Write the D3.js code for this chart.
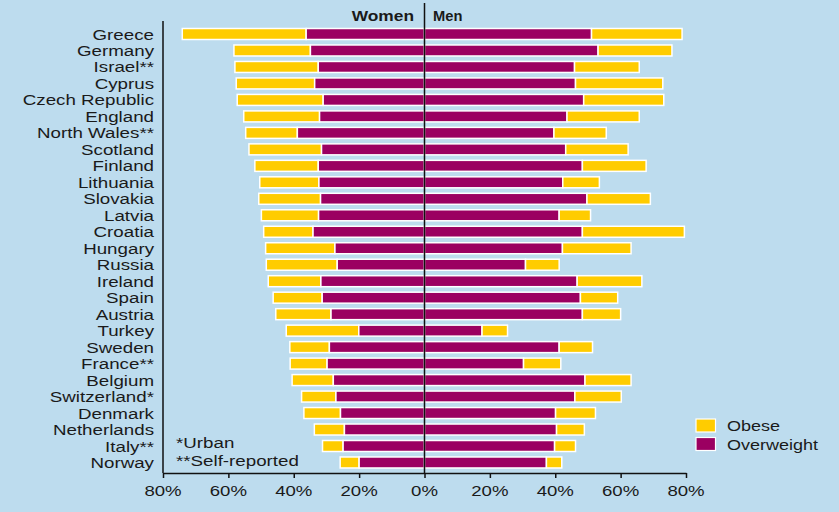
<!DOCTYPE html>
<html><head><meta charset="utf-8">
<script src="https://cdn.jsdelivr.net/npm/d3@7"></script>
<style>
html,body{margin:0;padding:0;background:#bddcee;}
svg{display:block;}
text{font-family:"Liberation Sans",Arial,sans-serif;fill:#1a1a1a;}
</style></head><body>
<svg id="chart" width="839" height="512"></svg>
<script>
const countries = ["Greece","Germany","Israel**","Cyprus","Czech Republic","England","North Wales**","Scotland","Finland","Lithuania","Slovakia","Latvia","Croatia","Hungary","Russia","Ireland","Spain","Austria","Turkey","Sweden","France**","Belgium","Switzerland*","Denmark","Netherlands","Italy**","Norway"];
const womenOverweight = [36.2,34.9,32.5,33.6,31.0,32.1,38.9,31.5,32.5,32.3,31.8,32.4,34.1,27.4,26.7,31.7,31.3,28.6,20.1,29.1,29.8,27.9,27.1,25.7,24.5,24.9,20.0];
const womenObese      = [37.9,23.4,25.5,24.0,26.3,23.2,15.8,22.2,19.4,18.1,18.9,17.5,15.1,21.2,21.7,16.1,15.0,16.9,22.2,12.1,11.3,12.6,10.5,11.2,9.2,6.3,5.8];
const menOverweight   = [51.1,53.1,45.9,46.2,48.7,43.6,39.6,43.2,48.3,42.3,49.7,41.2,48.3,42.2,30.9,46.7,47.7,48.3,17.6,41.2,30.3,49.1,46.0,40.1,40.4,39.8,37.3];
const menObese        = [27.7,22.6,19.8,26.7,24.5,22.1,16.0,19.1,19.5,11.2,19.4,9.6,31.2,21.0,10.3,19.8,11.4,11.7,7.8,10.2,11.4,14.1,14.2,12.2,8.5,6.4,4.7];
const tickValues = [-80,-60,-40,-20,0,20,40,60,80];
const seriesNames = ["Obese","Overweight"];
const colors = {Obese:"#ffcc00", Overweight:"#9b0061"};
const footnotes = ["*Urban","**Self-reported"];

const svg = d3.select("#chart");
const STRETCH = 1.25;

const x = d3.scaleLinear().domain([-80,80]).range([163,686]);
const y = d3.scaleBand().domain(countries).range([25.76, 470.72]).padding(0);
const barH = 11;

function stext(parent, tx, ty, str, anchor, size, weight, sx){
  const g = parent.append("g").attr("transform",`translate(${tx},${ty}) scale(${sx||STRETCH},1)`);
  g.append("text").attr("text-anchor",anchor).attr("font-size",size).attr("font-weight",weight||"normal").text(str);
  return g;
}

const rows = countries.map((c,i)=>({c, wo:womenOverweight[i], wb:womenObese[i], mo:menOverweight[i], mb:menObese[i]}));

const gBars = svg.append("g");
rows.forEach(d=>{
  const cy = y(d.c) + y.bandwidth()/2;
  const segs = [
    {x0:x(-(d.wo+d.wb)), x1:x(-d.wo), col:colors.Obese},
    {x0:x(-d.wo), x1:x(0), col:colors.Overweight},
    {x0:x(0), x1:x(d.mo), col:colors.Overweight},
    {x0:x(d.mo), x1:x(d.mo+d.mb), col:colors.Obese}
  ];
  segs.forEach(s=>{
    gBars.append("rect").attr("x",s.x0).attr("y",cy-barH/2).attr("width",s.x1-s.x0).attr("height",barH)
      .attr("fill",s.col).attr("stroke","#ffffff").attr("stroke-width",1.5);
  });
});

rows.forEach(d=>{
  const cy = y(d.c) + y.bandwidth()/2;
  stext(svg, 154, cy+5.5, d.c, "end", 15);
});

svg.append("line").attr("x1",x(0)).attr("x2",x(0)).attr("y1",3).attr("y2",473).attr("stroke","#111").attr("stroke-width",1.5);
svg.append("line").attr("x1",x(-80)).attr("x2",x(-80)).attr("y1",21).attr("y2",473).attr("stroke","#111").attr("stroke-width",1.5);

const axis = d3.axisBottom(x).tickValues(tickValues).tickSize(5).tickSizeOuter(0).tickFormat(v=>Math.abs(v)+"%");
const ga = svg.append("g").attr("transform","translate(0,473)").call(axis);
ga.select(".domain").attr("stroke","#111").attr("stroke-width",1.5);
ga.selectAll(".tick line").attr("stroke","#111").attr("stroke-width",1.5);
ga.selectAll(".tick text").remove();
tickValues.forEach(v=>{
  stext(svg, x(v), 496, Math.abs(v)+"%", "middle", 15.5, "normal", 1.2);
});

stext(svg, 414, 21, "Women", "end", 15.5, "bold", 1.12);
stext(svg, 433, 21, "Men", "start", 15.5, "bold", 0.95);

stext(svg, 176, 448, footnotes[0], "start", 15);
stext(svg, 176, 466, footnotes[1], "start", 15);

const lg = svg.append("g");
seriesNames.forEach((n,i)=>{
  const ly = 419 + i*18.5;
  lg.append("rect").attr("x",696).attr("y",ly).attr("width",19.5).attr("height",13).attr("fill",colors[n]).attr("stroke","#fff").attr("stroke-width",1.2);
  stext(lg, 727, ly+12, n, "start", 15, "normal", 1.2);
});
</script></body></html>
